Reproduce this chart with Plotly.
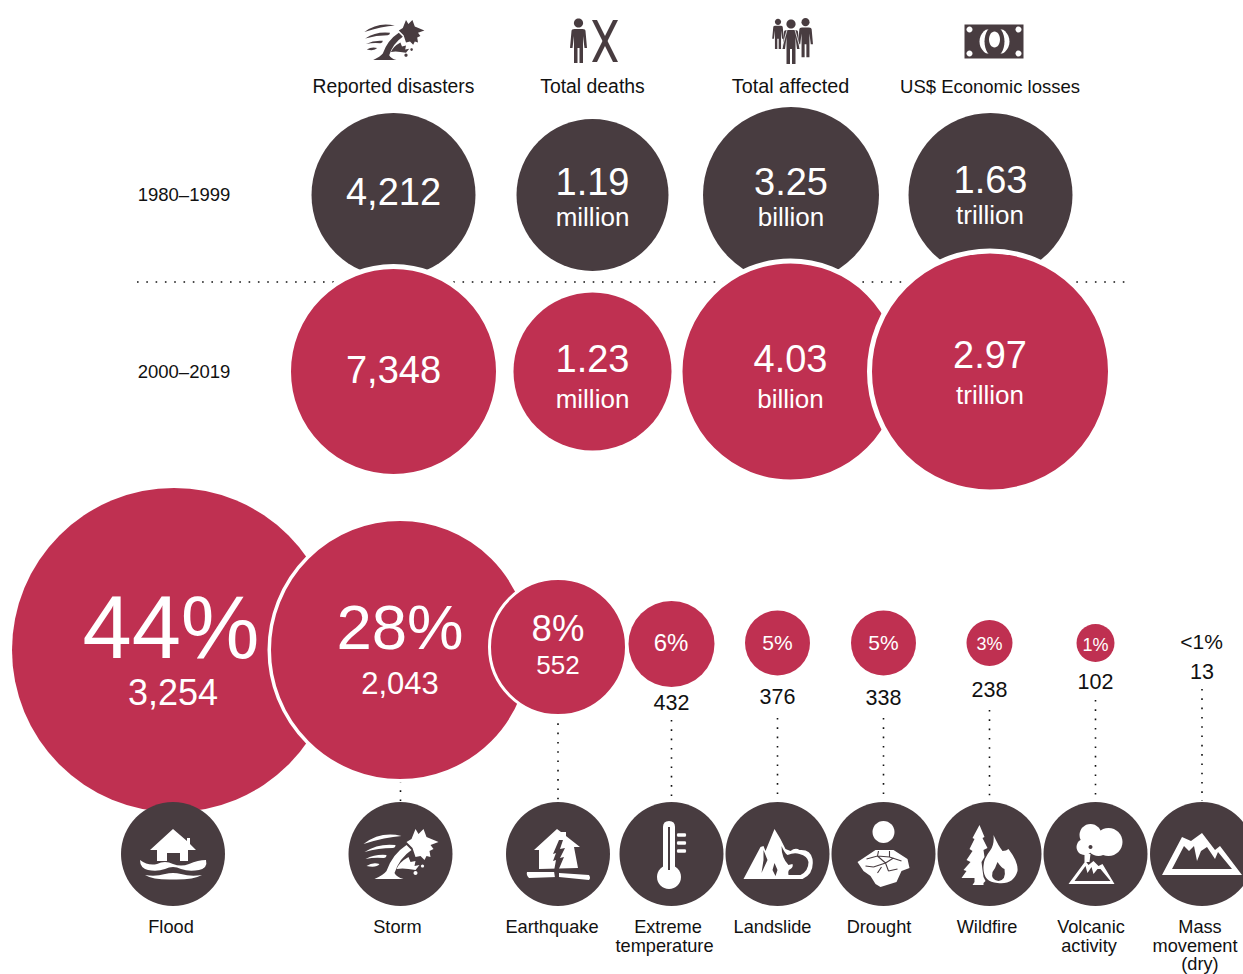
import re
import plotly.graph_objects as go

# ---------- data ----------
metric_names = ["Reported disasters", "Total deaths", "Total affected", "US$ Economic losses"]
period_names = ["1980\u20131999", "2000\u20132019"]
values_1980 = ["4,212", "1.19", "3.25", "1.63"]
values_2000 = ["7,348", "1.23", "4.03", "2.97"]
units_1980 = ["", "million", "billion", "trillion"]
units_2000 = ["", "million", "billion", "trillion"]
disaster_shares = ["44%", "28%", "8%", "6%", "5%", "5%", "3%", "1%", "<1%"]
disaster_counts = ["3,254", "2,043", "552", "432", "376", "338", "238", "102", "13"]
disaster_lines = ["Flood", "Storm", "Earthquake", "Extreme", "temperature", "Landslide", "Drought",
                  "Wildfire", "Volcanic", "activity", "Mass", "movement", "(dry)"]

# ---------- layout constants ----------
DARK = "#483C40"
RED = "#BF3051"
INK = "#111111"
FONT = "Liberation Sans, Arial, sans-serif"
W, H = 1243, 974

top_x = [393.5, 592.5, 791, 990.5]
top_r = [82, 76, 88, 82]
mid_x = [393.5, 592.5, 790.5, 990]
mid_r = [102.5, 79, 108, 118]
mid_halo = [5, 0, 5, 5]

bot_x = [174, 400, 558, 671.5, 777.5, 883.5, 989.5, 1095.5]
bot_y = [650, 650, 647, 644, 643, 643, 643, 643]
bot_r = [162, 129, 67, 43, 32.5, 32.5, 23, 19]
bot_halo = [0, 3.5, 3, 0, 0, 0, 0, 0]

icon_x = [173, 400.5, 558, 671.5, 777.5, 883.5, 989.5, 1095.5, 1202]
ICON_Y, ICON_R = 854, 52


def marker_trace(x, y, r, color, halo=None):
    halo = halo or [0] * len(x)
    return go.Scatter(
        x=x, y=y, mode="markers", hoverinfo="skip", showlegend=False,
        marker=dict(size=[2 * a + b for a, b in zip(r, halo)], color=color, opacity=1,
                    line=dict(color="white", width=halo)),
    )


def text_trace(x, y, text, size, color="white"):
    return go.Scatter(
        x=x, y=y, text=text, mode="text", textposition="middle center", hoverinfo="skip",
        showlegend=False, cliponaxis=False, textfont=dict(family=FONT, size=size, color=color),
    )


fig = go.Figure()

# leader lines
lead_x = [400.5, 558, 671.5, 777.5, 883.5, 989.5, 1095.5, 1202]
lead_start = [781, 714, 720, 718, 718, 710, 700, 689]
lx, ly = [], []
for x0, y0 in zip(lead_x, lead_start):
    lx += [x0, x0, None]
    ly += [y0, 801, None]
dots = dict(color="#111111", width=1.6, dash="1.6px,7.7px")
fig.add_trace(go.Scatter(x=lx, y=ly, mode="lines", line=dots, hoverinfo="skip", showlegend=False))

fig.add_trace(marker_trace(top_x, [195] * 4, top_r, DARK))
fig.add_trace(go.Scatter(x=[137, 1130], y=[282, 282], mode="lines", line=dots, hoverinfo="skip", showlegend=False))
fig.add_trace(marker_trace(mid_x, [371.5] * 4, mid_r, RED, mid_halo))
fig.add_trace(marker_trace(bot_x, bot_y, bot_r, RED, bot_halo))
fig.add_trace(marker_trace(icon_x, [ICON_Y] * 9, [ICON_R] * 9, DARK))

# texts
fig.add_trace(text_trace([393.5, 592.5, 790.5, 990], [88] * 4, metric_names, [19.3, 19.4, 19.8, 18.5], INK))
fig.add_trace(text_trace([184, 184], [196.5, 373.5], period_names, 18.5, INK))
fig.add_trace(text_trace([393.5, 592.5, 791, 990.5], [195, 185, 185, 183], values_1980, 38))
fig.add_trace(text_trace([592.5, 791, 990], [219.5, 219.5, 217.5], units_1980[1:], 26))
fig.add_trace(text_trace([393.5, 592.5, 790.5, 990], [373, 362, 362, 358], values_2000, 38))
fig.add_trace(text_trace([592.5, 790.5, 990], [401.5, 401.5, 397.5], units_2000[1:], 26))

fig.add_trace(text_trace([171, 400, 558, 671, 777.5, 883.5, 989.5, 1095.5],
                         [636, 633, 632, 645, 645, 645, 645, 646],
                         disaster_shares[:8], [88.5, 63.5, 36.5, 24, 21, 21, 18, 18]))
fig.add_trace(text_trace([173, 400, 558], [696, 686, 667], disaster_counts[:3], [36, 31, 26]))
fig.add_trace(text_trace([1201.5], [644], disaster_shares[8:], 21, INK))
fig.add_trace(text_trace([671.5, 777.5, 883.5, 989.5, 1095.5, 1202],
                         [705, 699, 700, 692, 684, 674], disaster_counts[3:], 21.5, INK))
fig.add_trace(text_trace(
    [171, 397.5, 552, 668, 664.5, 772.5, 879, 987, 1091, 1089, 1200, 1195, 1200],
    [928, 928, 928, 928, 947, 928, 928, 928, 928, 947, 928, 947, 965],
    disaster_lines, 18.2, INK))


# ---------- pictograms (decoration, drawn in pixel units) ----------
def tf(d, cx, cy, s=1.0):
    out, i = [], 0
    for tok in re.findall(r"[A-Za-z]|-?\d+\.?\d*", d):
        if tok.isalpha():
            out.append(tok)
            i = 0
        else:
            v = float(tok) * s + (cx if i % 2 == 0 else cy)
            out.append(f"{v:.2f}")
            i += 1
    return " ".join(out)


def ell(x, y, rx, ry=None):
    ry = rx if ry is None else ry
    kx, ky = rx * 0.5523, ry * 0.5523
    return (f"M{x - rx},{y} C{x - rx},{y - ky} {x - kx},{y - ry} {x},{y - ry} "
            f"C{x + kx},{y - ry} {x + rx},{y - ky} {x + rx},{y} "
            f"C{x + rx},{y + ky} {x + kx},{y + ry} {x},{y + ry} "
            f"C{x - kx},{y + ry} {x - rx},{y + ky} {x - rx},{y} Z")


shapes = []


def add(d, cx, cy, s=1.0, color="white"):
    shapes.append(dict(type="path", path=tf(d, cx, cy, s), xref="x", yref="y",
                       fillcolor=color, line=dict(width=0), layer="above"))


def stroke(d, cx, cy, s=1.0, color=DARK, w=1.0):
    shapes.append(dict(type="path", path=tf(d, cx, cy, s), xref="x", yref="y",
                       line=dict(color=color, width=w), layer="above"))


STORM = [
    "M-37,-10 Q-20,-23 1,-18 Q-15,-17 -37,-10 Z",
    "M-36,-2 Q-22,-11 -5,-9 Q-5,-6 -8,-6 Q-22,-6 -36,-2 Z",
    "M-35,5 Q-25,0 -14,1 Q-14,4 -17,4 Q-26,3 -35,5 Z",
    "M-34,12 Q-28,8 -21,10 Q-24,14 -34,12 Z",
    "M-26,25 Q-17,21 -14,17 Q-8,0 6,-9 L11,-4 Q-1,4 -6,19 Q-4,23 3,25 Z",
    "M6,-12 L11,-15 L15,-25 L18,-20 L23,-25 L26,-17 L38,-12 L30,-9 L33,-5 L29,-3 L30,3 L26,2 L24,6 L20,2 L15,3 L12,-6 Z",
    "M-4,15 Q-1,8 8,3 L10,8 L15,7 L14,12 L19,11 L15,16 L8,15 Q2,14 -4,15 Z",
    ell(15, 19, 2), ell(22, 12, 1.6),
]
PERSON = ("M-7,-10 Q-7,-12 -4,-12 L4,-12 Q7,-12 7,-10 L8.5,7 L6,7 L4.5,-5 L4.5,22 L1,22 L1,7 L-1,7 "
          "L-1,22 L-4.5,22 L-4.5,-5 L-6,7 L-8.5,7 Z")


def person(cx, cy, s, color=DARK):
    add(PERSON, cx, cy, s, color)
    add(ell(0, -18, 4.6), cx, cy, s, color)


# top row pictograms
for p in STORM:
    add(p, 394, 40, 0.8, DARK)
person(578.5, 41, 1.0)
add("M-13,-21 L-8,-21 L13,21 L8,21 Z", 605, 41, 1, DARK)
add("M13,-21 L8,-21 L-13,21 L-8,21 Z", 605, 41, 1, DARK)
person(778, 34, 0.68)
person(805.5, 38, 0.88)
person(791, 42, 1.0)
stroke("M-4,-12 L-9,6 M4,-12 L9,6", 791, 42, 1, "white", 0.8)
add("M-30,-17 L29,-17 L29,17 L-30,17 Z", 994.5, 41.5, 1, DARK)
for dx, dy in [(-25, -12), (24, -12), (-25, 12), (24, 12)]:
    add(ell(dx, dy, 3), 994.5, 41.5, 1)
add(ell(0, 0, 15, 14.5), 994.5, 41.5, 1)
add(ell(0, 0, 10, 15.5), 994.5, 41.5, 1, DARK)
add(ell(0, -2, 5.5, 8), 994.5, 41.5, 1)
add("M-11,-16 L11,-16 L11,-12 L-11,-12 Z M-11,12 L11,12 L11,16 L-11,16 Z", 994.5, 41.5, 1, DARK)

# flood
cx = icon_x[0]
add("M0,-25 L-23,-4 L-16,-4 L-16,7 L-6,7 L-6,-1 L7,-1 L7,7 L15,7 L15,-4 L23,-4 L17,-10 L17,-16 L14,-16 L14,-13 Z", cx, ICON_Y)
add("M-33,6 Q-25,12 -16,10 Q-8,6 0,10 Q8,13 16,10 Q25,6 33,6 Q35,14 26,16 Q16,18 8,15 Q0,11 -8,15 Q-16,18 -25,16 Q-33,14 -33,6 Z", cx, ICON_Y)
add("M-28,21 Q-18,23 -8,20 Q0,18 8,20 Q18,23 29,21 Q20,26 0,25.5 Q-20,26 -28,21 Z", cx, ICON_Y)

# storm
for p in STORM:
    add(p, icon_x[1], ICON_Y)

# earthquake
cx = icon_x[2]
add("M-1,-25 L3,-22 L8,-22 L8,-18 L22,-7 L16,-7 L20,14 L-19,15 L-19,-4 L-24,-4 Z", cx, ICON_Y)
add("M-31,18 L-1,18 L-1,23 L-29,24 Q-32,21 -31,18 Z M1,19 L31,21 Q33,24 31,26 L1,23 Z", cx, ICON_Y)
add("M1,-14 L5,-14 L2,-5 L7,-6 L2,4 L6,3 L0,17 L-1,24 L-3,24 L-4,17 L-2,6 L-5,7 L-2,-1 L-5,0 Z", cx, ICON_Y, 1, DARK)

# extreme temperature
cx = icon_x[3]
add("M-8.5,-27 Q-8.5,-33 -2.5,-33 Q3.5,-33 3.5,-27 L3.5,15 L-8.5,15 Z", cx, ICON_Y)
add(ell(-2.5, 23, 12), cx, ICON_Y)
add("M-3.5,-27 L-1.5,-27 L-1.5,16 L-3.5,16 Z", cx, ICON_Y, 1, DARK)
for ty in (-19, -11, -3):
    add(f"M6,{ty - 1.7} L14,{ty - 1.7} Q15.5,{ty} 14,{ty + 1.7} L6,{ty + 1.7} Q4.5,{ty} 6,{ty - 1.7} Z", cx, ICON_Y)

# landslide
cx = icon_x[4]
add("M-3,-25 L3,-15 L8,-5 L13,-3 Q18,-7 22,-4 Q33,-5 35,5 Q37,20 25,25 L-34,25 L-17,-7 L-14,-8 L-12,-3 Z", cx, ICON_Y)
add("M4,-8 Q7,-1 10,1 Q17,-2 22,0 Q30,2 31,8 Q31,17 23,21 L11,21 Q10,16 13,15 Q16,13 15,10 L11,11 Q4,4 4,-8 Z", cx, ICON_Y, 1, DARK)
add("M-14,-4 L-10,6 L-16,19 L-14,6 Z M-3,9 L0,16 L-2,22 L-5,16 Z", cx, ICON_Y, 1, DARK)

# drought
cx = icon_x[5]
add(ell(0, -22, 11), cx, ICON_Y)
add("M-8,-4 L10,-4 L24,5 L26,14 L18,17 L13,28 L-3,33 L-8,30 L-13,22 L-20,17 L-26,8 Z", cx, ICON_Y)
stroke("M-17,5 L-6,2 L6,3 L18,7 M-6,2 L2,9 L10,4 M2,9 L-10,13 M2,9 L5,17 M-10,13 L-18,12 M5,17 L14,15 "
       "M-5,-3 L-6,2 M6,-3 L6,3 M-2,13 L-6,19", cx, ICON_Y, 1, DARK, 1.1)

# wildfire
cx = icon_x[6]
add("M-10,-29 L-5,-17 L-7,-16 L-2,-6 L-6,-4 L-5,3 L-8,8 L-7,16 L-6,23 L-4,27 L-6,29 L-6,31 L-17,31 L-15,28 L-15,24 "
    "L-28,24 L-23,17 L-26,16 L-19,8 L-23,6 L-17,-3 L-20,-5 L-15,-15 L-17,-16 Z", cx, ICON_Y)
add("M4,-19 Q9,-8 13,-3 Q17,-3 19,-5 Q29,8 28,17 Q24,31 8,29 Q-7,28 -6,12 Q-6,5 1,-4 Q5,-10 4,-19 Z", cx, ICON_Y)
add("M8,8 Q12,14 15,15 Q17,26 9,27 Q1,26 3,18 Q6,14 8,8 Z", cx, ICON_Y, 1, DARK)

# volcanic activity
cx = icon_x[7]
add(ell(13, -12, 14), cx, ICON_Y)
add(ell(-5, -19, 11), cx, ICON_Y)
add(ell(-11, -7, 8), cx, ICON_Y)
add(ell(3, -10, 12), cx, ICON_Y)
add("M-11,0 L-5,0 L-6,8 L-11,8 Z", cx, ICON_Y)
add(ell(-5, -7, 2), cx, ICON_Y, 1, DARK)
add("M-27,30 L-10,7 L-7,11 L-2,7 L3,12 L7,10 L19,30 Z", cx, ICON_Y)
add("M-21,27 L-10,12 L-8,19 L-4,13 L-2,20 L2,15 L5,15 L15,27 Z", cx, ICON_Y, 1, DARK)

# mass movement
cx = icon_x[8]
add("M-40,21 L-20,-17 L-11,-13 L0,-21 L13,-4 L18,-8 L40,21 Z", cx, ICON_Y)
add("M-30,15 L-18,-8 L-13,-3 L-8,-8 L-5,7 L-1,-3 L5,-7 L9,-1 L13,5 L16,-2 L30,15 Z", cx, ICON_Y, 1, DARK)

fig.update_layout(
    width=W, height=H, autosize=False, margin=dict(l=0, r=0, t=0, b=0),
    paper_bgcolor="white", plot_bgcolor="white", showlegend=False, shapes=shapes,
    xaxis=dict(range=[0, W], visible=False, fixedrange=True),
    yaxis=dict(range=[H, 0], visible=False, fixedrange=True),
)
fig.write_html("out.html", config=dict(displayModeBar=False),
               post_script="document.body.style.margin='0';document.body.style.overflow='hidden';")
